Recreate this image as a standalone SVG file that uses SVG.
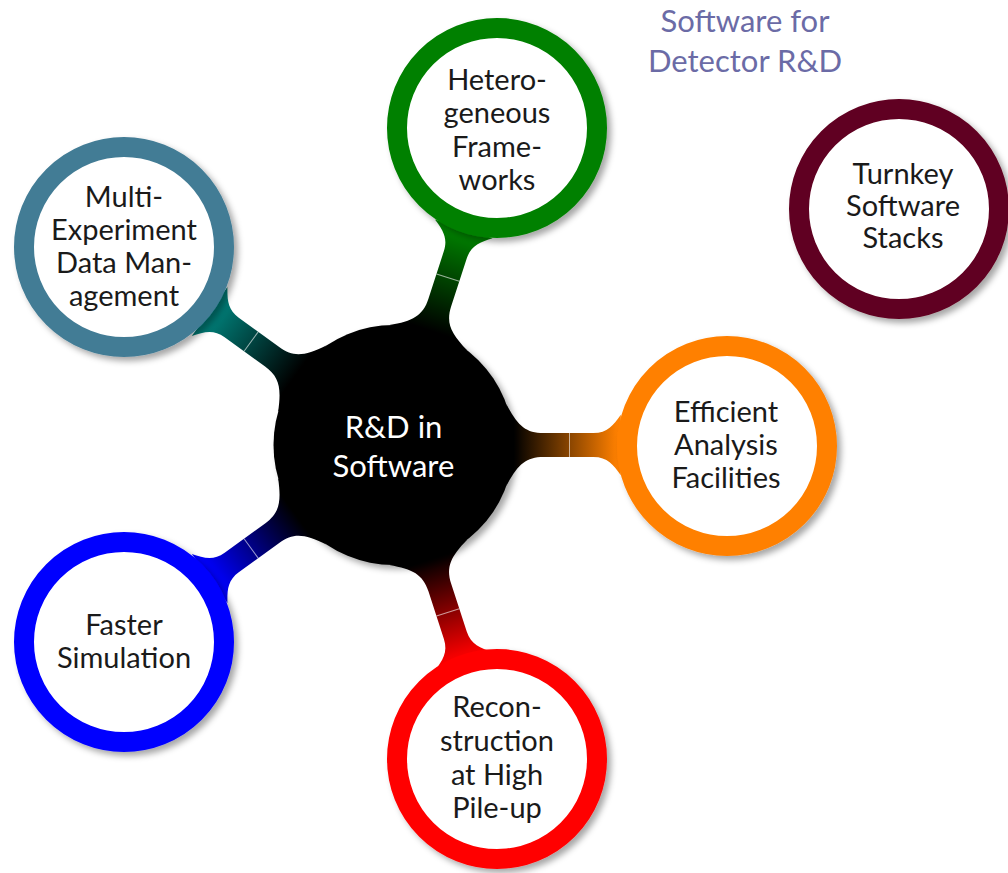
<svg xmlns="http://www.w3.org/2000/svg" width="1008" height="873" viewBox="0 0 1008 873">
  <defs>
    <style>
      .lbl { font-family: Lato, "Liberation Sans", sans-serif; font-size: 29px; fill: #1a1a1a; text-anchor: middle; }
      .root { font-family: Lato, "Liberation Sans", sans-serif; font-size: 31px; fill: #ffffff; text-anchor: middle; }
      .title { font-family: Lato, "Liberation Sans", sans-serif; font-size: 31px; fill: #6b6ba6; text-anchor: middle; }
      .ring { fill: #ffffff; stroke-width: 20; }
      .seam { stroke: #ffffff; stroke-opacity: 0.6; stroke-width: 1; }
    </style>
    <filter id="shadow" x="-20%" y="-20%" width="150%" height="150%">
      <feGaussianBlur in="SourceAlpha" stdDeviation="3"/>
      <feOffset dx="4" dy="4" result="blur"/>
      <feFlood flood-color="#000000" flood-opacity="0.35"/>
      <feComposite in2="blur" operator="in"/>
      <feMerge><feMergeNode/><feMergeNode in="SourceGraphic"/></feMerge>
    </filter>
    <!-- connector shades run along the local x axis, parent (x=120) to child (x=224) -->
    <linearGradient id="gGreen" gradientUnits="userSpaceOnUse" x1="120" y1="0" x2="224" y2="0">
      <stop offset="0" stop-color="#000000"/><stop offset="1" stop-color="#008000"/>
    </linearGradient>
    <linearGradient id="gTeal" gradientUnits="userSpaceOnUse" x1="120" y1="0" x2="224" y2="0">
      <stop offset="0" stop-color="#000000"/><stop offset="1" stop-color="#00807a"/>
    </linearGradient>
    <linearGradient id="gOrange" gradientUnits="userSpaceOnUse" x1="120" y1="0" x2="224" y2="0">
      <stop offset="0" stop-color="#000000"/><stop offset="1" stop-color="#ff8000"/>
    </linearGradient>
    <linearGradient id="gBlue" gradientUnits="userSpaceOnUse" x1="120" y1="0" x2="224" y2="0">
      <stop offset="0" stop-color="#000000"/><stop offset="1" stop-color="#0000ff"/>
    </linearGradient>
    <linearGradient id="gRed" gradientUnits="userSpaceOnUse" x1="120" y1="0" x2="224" y2="0">
      <stop offset="0" stop-color="#000000"/><stop offset="1" stop-color="#ff0000"/>
    </linearGradient>
    <path id="bar" d="M112.8,-41 C124,-20 132,-12 150,-12 L200,-12 C214,-12 220,-20 227.3,-30.3 L227.3,30.3 C220,20 214,12 200,12 L150,12 C132,12 124,20 112.8,41 Z"/>
  </defs>

  <rect width="1008" height="873" fill="#ffffff"/>

  <!-- connectors: tapered bars from the root to each concept -->
  <g id="connectors">
    <g transform="translate(393.5,445) rotate(0)">
      <use href="#bar" fill="url(#gOrange)"/>
      <line class="seam" x1="176" y1="-12" x2="176" y2="12"/>
    </g>
    <g transform="translate(393.5,445) rotate(-72)">
      <use href="#bar" fill="url(#gGreen)"/>
      <line class="seam" x1="176" y1="-12" x2="176" y2="12"/>
    </g>
    <g transform="translate(393.5,445) rotate(-144)">
      <use href="#bar" fill="url(#gTeal)"/>
      <line class="seam" x1="176" y1="-12" x2="176" y2="12"/>
    </g>
    <g transform="translate(393.5,445) rotate(-216)">
      <use href="#bar" fill="url(#gBlue)"/>
      <line class="seam" x1="176" y1="-12" x2="176" y2="12"/>
    </g>
    <g transform="translate(393.5,445) rotate(-288)">
      <use href="#bar" fill="url(#gRed)"/>
      <line class="seam" x1="176" y1="-12" x2="176" y2="12"/>
    </g>
  </g>

  <!-- root concept -->
  <g id="root">
    <circle cx="393.5" cy="445" r="120" fill="#000000" filter="url(#shadow)"/>
    <text class="root" x="393.5" y="438">R&amp;D in</text>
    <text class="root" x="393.5" y="477">Software</text>
  </g>

  <g id="frameworks">
    <circle class="ring" cx="497" cy="128" r="100" stroke="#008000" filter="url(#shadow)"/>
    <text class="lbl" x="497" y="90">Hetero-</text>
    <text class="lbl" x="497" y="123">geneous</text>
    <text class="lbl" x="497" y="157">Frame-</text>
    <text class="lbl" x="497" y="190">works</text>
  </g>

  <g id="data-management">
    <circle class="ring" cx="124" cy="247" r="100" stroke="#437c95" filter="url(#shadow)"/>
    <text class="lbl" x="124" y="207">Multi-</text>
    <text class="lbl" x="124" y="240">Experiment</text>
    <text class="lbl" x="124" y="273">Data Man-</text>
    <text class="lbl" x="124" y="306">agement</text>
  </g>

  <g id="analysis-facilities">
    <circle class="ring" cx="727" cy="446" r="100" stroke="#ff8000" filter="url(#shadow)"/>
    <text class="lbl" x="726" y="422">Efficient</text>
    <text class="lbl" x="726" y="455">Analysis</text>
    <text class="lbl" x="726" y="488">Facilities</text>
  </g>

  <g id="simulation">
    <circle class="ring" cx="124" cy="642" r="100" stroke="#0000ff" filter="url(#shadow)"/>
    <text class="lbl" x="124" y="635">Faster</text>
    <text class="lbl" x="124" y="668">Simulation</text>
  </g>

  <g id="reconstruction">
    <circle class="ring" cx="497" cy="759" r="100" stroke="#ff0000" filter="url(#shadow)"/>
    <text class="lbl" x="497" y="717">Recon-</text>
    <text class="lbl" x="497" y="751">struction</text>
    <text class="lbl" x="497" y="785">at High</text>
    <text class="lbl" x="497" y="818">Pile-up</text>
  </g>

  <g id="turnkey">
    <circle class="ring" cx="899" cy="209" r="100" stroke="#600020" filter="url(#shadow)"/>
    <text class="lbl" x="903" y="184">Turnkey</text>
    <text class="lbl" x="903" y="216">Software</text>
    <text class="lbl" x="903" y="248">Stacks</text>
  </g>

  <g id="title">
    <text class="title" x="745" y="32">Software for</text>
    <text class="title" x="745" y="72">Detector R&amp;D</text>
  </g>
</svg>
